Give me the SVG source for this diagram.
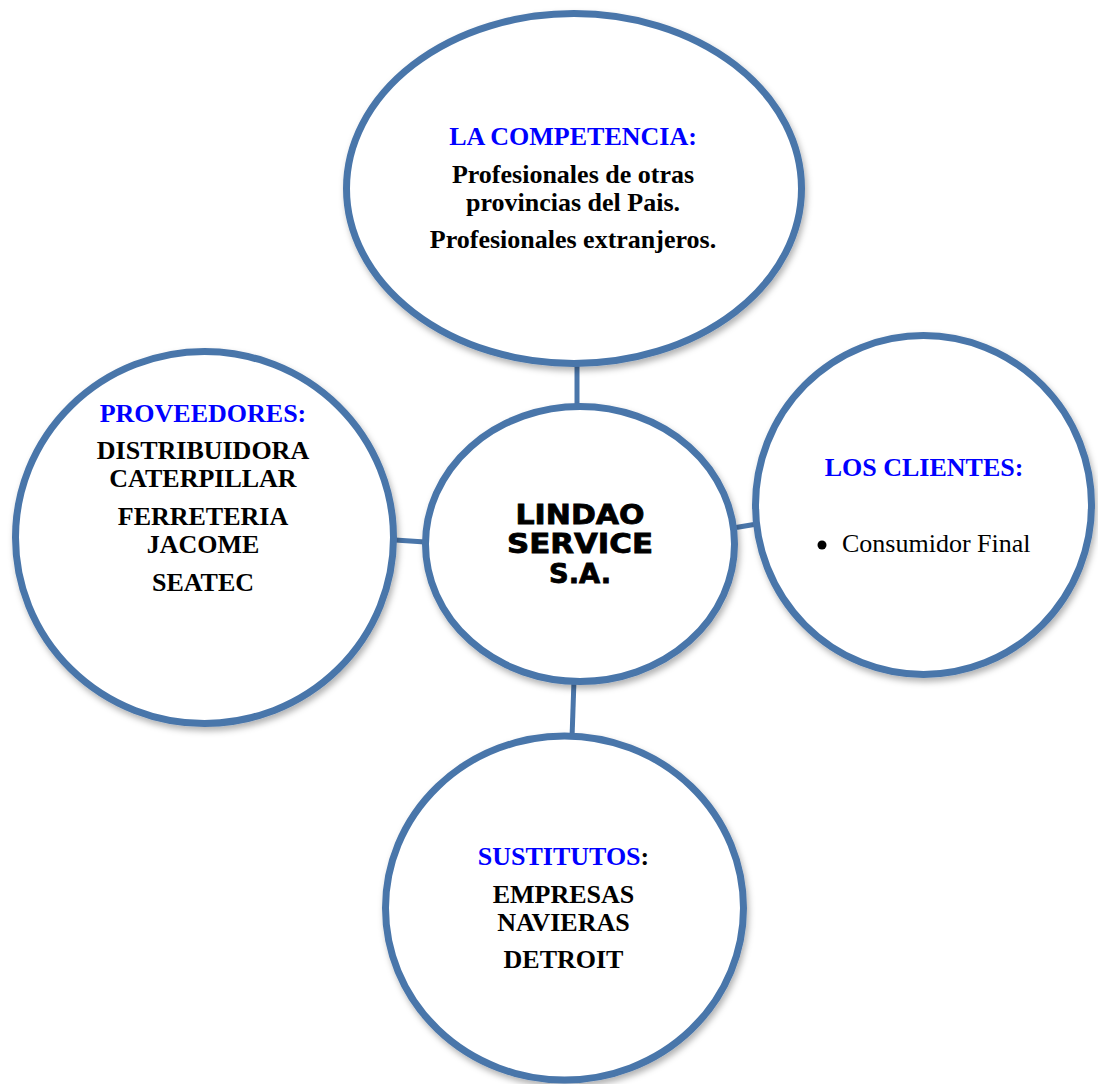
<svg xmlns="http://www.w3.org/2000/svg" width="1098" height="1084" viewBox="0 0 1098 1084">
<style>
.node{fill:#ffffff;stroke:#4a76aa;stroke-width:7;filter:url(#sh)}
.conn{stroke:#4a76aa;stroke-width:5;fill:none}
.t{font-family:"Liberation Serif","Times New Roman",serif;font-size:26px;text-anchor:middle}
.b{font-weight:bold;fill:#000}
.h{font-weight:bold;fill:#0000ff}
.r{fill:#000}
.c{font-family:"DejaVu Sans","Liberation Sans",sans-serif;font-weight:bold;font-size:27px;text-anchor:middle;fill:#000;stroke:#000;stroke-width:0.8}
</style>
<defs>
<filter id="sh" x="-10%" y="-10%" width="125%" height="125%">
<feDropShadow dx="2" dy="4" stdDeviation="3" flood-color="#000" flood-opacity="0.3"/>
</filter>
</defs>
<rect width="1098" height="1084" fill="#ffffff"/>
<g id="connectors">
<line class="conn" x1="577" y1="365" x2="577" y2="407"/>
<line class="conn" x1="395" y1="540" x2="425" y2="542"/>
<line class="conn" x1="733" y1="528" x2="757" y2="524"/>
<line class="conn" x1="574" y1="680" x2="572" y2="738"/>
</g>
<g id="competencia">
<ellipse class="node" cx="574" cy="188.5" rx="227.5" ry="175"/>
<text class="t h" x="573" y="145">LA COMPETENCIA:</text>
<text class="t b" x="573" y="183">Profesionales de otras</text>
<text class="t b" x="573" y="211">provincias del Pais.</text>
<text class="t b" x="573" y="248">Profesionales extranjeros.</text>
</g>
<g id="proveedores">
<ellipse class="node" cx="204.5" cy="537.5" rx="189" ry="186"/>
<text class="t h" x="203" y="422">PROVEEDORES:</text>
<text class="t b" x="203" y="459">DISTRIBUIDORA</text>
<text class="t b" x="203" y="487">CATERPILLAR</text>
<text class="t b" x="203" y="525">FERRETERIA</text>
<text class="t b" x="203" y="553">JACOME</text>
<text class="t b" x="203" y="591">SEATEC</text>
</g>
<g id="clientes">
<ellipse class="node" cx="923.5" cy="505" rx="168" ry="169.5"/>
<text class="t h" x="924" y="476">LOS CLIENTES:</text>
<circle cx="822" cy="545" r="4.5" fill="#000"/>
<text class="t r" x="842" y="552" style="text-anchor:start">Consumidor Final</text>
</g>
<g id="sustitutos">
<ellipse class="node" cx="564.5" cy="908" rx="179" ry="172"/>
<text class="t b" x="563.5" y="865"><tspan fill="#0000ff">SUSTITUTOS</tspan>:</text>
<text class="t b" x="563.5" y="903">EMPRESAS</text>
<text class="t b" x="563.5" y="931">NAVIERAS</text>
<text class="t b" x="563.5" y="968">DETROIT</text>
</g>
<g id="lindao">
<ellipse class="node" cx="580" cy="544" rx="154.5" ry="137.5"/>
<text class="c" x="580" y="524" textLength="129" lengthAdjust="spacingAndGlyphs">LINDAO</text>
<text class="c" x="580" y="553" textLength="146" lengthAdjust="spacingAndGlyphs">SERVICE</text>
<text class="c" x="580" y="583" textLength="62" lengthAdjust="spacingAndGlyphs">S.A.</text>
</g>
</svg>
